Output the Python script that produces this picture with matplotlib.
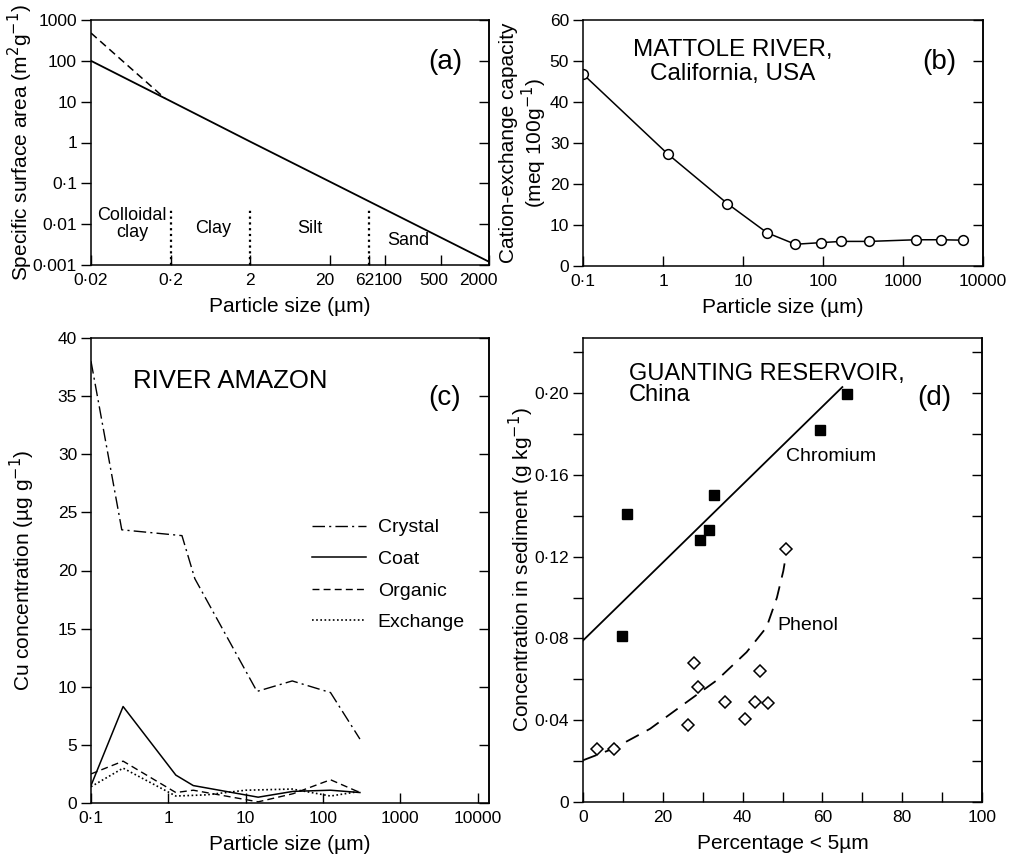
import numpy as np
import matplotlib.pyplot as plt
from matplotlib.ticker import NullLocator
from matplotlib.transforms import ScaledTranslation

plt.rcParams['font.family'] = ['Liberation Sans', 'DejaVu Sans']
plt.rcParams['axes.linewidth'] = 1.1

# --- (a) specific surface area vs particle size ---
ssa_size = [0.02, 0.2, 2, 20, 200, 2000]
ssa_area = [100, 10.3, 1.05, 0.11, 0.0115, 0.0012]
ssa_clay_size = [0.02, 0.06, 0.17]
ssa_clay_area = [480, 72, 12]
class_bounds = [0.2, 2, 62]
class_names = ['Colloidal\nclay', 'Clay', 'Silt', 'Sand']
a_xticks = [0.02, 0.2, 2, 20, 62, 100, 500, 2000]
a_xlabels = ['0\u00b702', '0\u00b72', '2', '20', '62', '100', '500', '2000']
a_yticks = [0.001, 0.01, 0.1, 1, 10, 100, 1000]
a_ylabels = ['0\u00b7001', '0\u00b701', '0\u00b71', '1', '10', '100', '1000']

# --- (b) Mattole River CEC ---
cec_size = [0.1, 1.15, 6.4, 20, 45, 94, 170, 380, 1450, 3000, 5600]
cec_value = [46.8, 27.3, 15.2, 8.1, 5.3, 5.7, 6.0, 6.0, 6.4, 6.4, 6.3]
log_xticks = [0.1, 1, 10, 100, 1000, 10000]
log_xlabels = ['0\u00b71', '1', '10', '100', '1000', '10000']

# --- (c) River Amazon Cu ---
crystal_size = [0.1, 0.25, 1.5, 2.2, 14, 40, 125, 300]
crystal_cu = [38, 23.5, 23, 19.3, 9.6, 10.5, 9.5, 5.5]
coat_size = [0.1, 0.26, 1.25, 2.1, 14.5, 41, 125, 300]
coat_cu = [1.5, 8.3, 2.4, 1.5, 0.5, 1.0, 1.1, 0.9]
organic_size = [0.1, 0.26, 1.25, 2.1, 14.5, 41, 125, 300]
organic_cu = [2.5, 3.6, 0.9, 1.1, 0.1, 0.8, 2.0, 0.9]
exchange_size = [0.1, 0.26, 1.25, 3.1, 10, 40, 125, 300]
exchange_cu = [1.4, 3.0, 0.6, 0.7, 1.1, 1.2, 0.6, 1.0]

# --- (d) Guanting Reservoir ---
cr_pct = [9.8, 11.0, 29.2, 31.7, 32.8, 59.4, 66.1]
cr_conc = [0.081, 0.141, 0.128, 0.133, 0.150, 0.182, 0.1995]
cr_fit_pct = [0, 65]
cr_fit_conc = [0.079, 0.203]
ph_pct = [3.5, 7.7, 26.3, 27.9, 28.8, 35.6, 40.6, 43.0, 44.4, 46.3, 50.9]
ph_conc = [0.026, 0.0257, 0.0375, 0.068, 0.0562, 0.049, 0.0407, 0.0489, 0.0643, 0.0486, 0.1238]
ph_fit_pct = [0, 7.7, 16.8, 26, 33.5, 41, 46, 48.6, 50.2, 50.9]
ph_fit_conc = [0.0204, 0.0262, 0.0358, 0.0489, 0.0595, 0.0733, 0.0855, 0.100, 0.113, 0.121]
d_yticks = [0, 0.02, 0.04, 0.06, 0.08, 0.10, 0.12, 0.14, 0.16, 0.18, 0.20, 0.22]
d_ylabels = ['0', '', '0\u00b704', '', '0\u00b708', '', '0\u00b712', '', '0\u00b716', '', '0\u00b720', '']
d_xticks = [0, 10, 20, 30, 40, 50, 60, 70, 80, 90, 100]
d_xlabels = ['0', '', '20', '', '40', '', '60', '', '80', '', '100']

TICK = 12.5
LABEL = 15


def set_ticks(ax, xticks, xlabels, yticks, ylabels):
    ax.set_xticks(xticks, xlabels)
    ax.set_yticks(yticks, ylabels)
    ax.xaxis.set_minor_locator(NullLocator())
    ax.yaxis.set_minor_locator(NullLocator())
    ax.tick_params(axis='y', direction='out', length=7, width=1, labelsize=TICK, pad=3)
    ax.tick_params(axis='x', direction='in', length=7, width=1, labelsize=TICK, pad=6)
    sec = ax.secondary_yaxis('right')
    sec.set_yticks(yticks)
    sec.yaxis.set_minor_locator(NullLocator())
    sec.tick_params(direction='in', length=7, width=1, labelright=False)


fig = plt.figure(figsize=(10.09, 8.58), dpi=100)
W, H = 1009, 858


def add_axes(l, t, r, b):
    return fig.add_axes([l / W, 1 - b / H, (r - l) / W, (b - t) / H])


# (a)
ax = add_axes(91, 20, 489, 265)
ax.set_xscale('log')
ax.set_yscale('log')
ax.plot(ssa_size, ssa_area, color='black', lw=1.3)
ax.plot(ssa_clay_size, ssa_clay_area, color='black', lw=1.1, ls=(0, (5, 3)))
ax.vlines(class_bounds, 0.001, 0.022, color='black', lw=1.6, ls=(0, (1, 1.6)))
ax.set_xlim(0.02, 2000)
ax.set_ylim(0.001, 1000)
set_ticks(ax, a_xticks, a_xlabels, a_yticks, a_ylabels)
# hand-lettered labels sit a little off their ticks in the original
shift = {'20': -5, '62': -4, '100': 3, '500': -7, '2000': -11}
for lab in ax.get_xticklabels():
    dx = shift.get(lab.get_text(), 0)
    if dx:
        lab.set_transform(lab.get_transform() + ScaledTranslation(dx / 100, 0, fig.dpi_scale_trans))
ax.set_xlabel('Particle size (\u00b5m)', fontsize=LABEL, labelpad=6)
ax.set_ylabel('Specific surface area (m$^2$g$^{-1}$)', fontsize=LABEL)
ax.yaxis.set_label_coords(-0.14, 0.5)
for name, x, y in zip(class_names, [0.103, 0.307, 0.550, 0.797], [0.167, 0.151, 0.151, 0.098]):
    ax.text(x, y, name, transform=ax.transAxes, ha='center', va='center', fontsize=13,
            linespacing=0.95)
ax.text(0.889, 0.829, '(a)', transform=ax.transAxes, ha='center', va='center', fontsize=20)

# (b)
ax = add_axes(583, 20, 983, 266)
ax.set_xscale('log')
ax.plot(cec_size, cec_value, color='black', lw=1.1, marker='o', ms=7,
        mfc='white', mec='black', mew=1.1)
ax.set_xlim(0.1, 10000)
ax.set_ylim(0, 60)
set_ticks(ax, log_xticks, log_xlabels, [0, 10, 20, 30, 40, 50, 60],
          ['0', '10', '20', '30', '40', '50', '60'])
ax.set_xlabel('Particle size (\u00b5m)', fontsize=LABEL, labelpad=6)
ax.set_ylabel('Cation-exchange capacity\n(meq 100g$^{-1}$)', fontsize=LABEL, linespacing=1.1)
ax.yaxis.set_label_coords(-0.084, 0.5)
ax.text(0.375, 0.83, 'MATTOLE RIVER,\nCalifornia, USA', transform=ax.transAxes,
        ha='center', va='center', fontsize=17.5, linespacing=1.1)
ax.text(0.89, 0.83, '(b)', transform=ax.transAxes, ha='center', va='center', fontsize=20)

# (c)
ax = add_axes(91, 338, 489, 803)
ax.set_xscale('log')
ax.plot(crystal_size, crystal_cu, color='black', lw=1.0, ls=(0, (9, 3, 1.5, 3)), label='Crystal')
ax.plot(coat_size, coat_cu, color='black', lw=1.1, label='Coat')
ax.plot(organic_size, organic_cu, color='black', lw=1.0, ls=(0, (5, 3)), label='Organic')
ax.plot(exchange_size, exchange_cu, color='black', lw=1.2, ls=(0, (1, 1.5)), label='Exchange')
ax.set_xlim(0.1, 14000)
ax.set_ylim(0, 40)
set_ticks(ax, log_xticks, log_xlabels, [0, 5, 10, 15, 20, 25, 30, 35, 40],
          ['0', '5', '10', '15', '20', '25', '30', '35', '40'])
ax.set_xlabel('Particle size (\u00b5m)', fontsize=LABEL, labelpad=6)
ax.set_ylabel('Cu concentration (\u00b5g g$^{-1}$)', fontsize=LABEL)
ax.yaxis.set_label_coords(-0.136, 0.5)
ax.legend(loc='upper left', bbox_to_anchor=(0.53, 0.632), frameon=False, fontsize=14,
          handlelength=2.8, handletextpad=0.6, labelspacing=0.72, borderpad=0)
ax.text(0.105, 0.907, 'RIVER AMAZON', transform=ax.transAxes, ha='left', va='center', fontsize=18.5)
ax.text(0.889, 0.87, '(c)', transform=ax.transAxes, ha='center', va='center', fontsize=20)

# (d)
ax = add_axes(583, 338, 982, 802)
ax.plot(cr_fit_pct, cr_fit_conc, color='black', lw=1.3)
ax.plot(cr_pct, cr_conc, ls='none', marker='s', ms=6.5, color='black')
ax.plot(ph_fit_pct, ph_fit_conc, color='black', lw=1.3, ls=(0, (8, 5)))
ax.plot(ph_pct, ph_conc, ls='none', marker='D', ms=6, mfc='white', mec='black', mew=1.1)
ax.set_xlim(0, 100)
ax.set_ylim(0, 0.227)
set_ticks(ax, d_xticks, d_xlabels, d_yticks, d_ylabels)
ax.set_xlabel('Percentage < 5\u00b5m', fontsize=LABEL, labelpad=6)
ax.set_ylabel('Concentration in sediment (g kg$^{-1}$)', fontsize=LABEL)
ax.yaxis.set_label_coords(-0.118, 0.5)
ax.text(0.115, 0.9, 'GUANTING RESERVOIR,\nChina', transform=ax.transAxes,
        ha='left', va='center', fontsize=17, linespacing=0.95)
ax.text(0.88, 0.87, '(d)', transform=ax.transAxes, ha='center', va='center', fontsize=20)
ax.text(0.508, 0.745, 'Chromium', transform=ax.transAxes, ha='left', va='center', fontsize=14)
ax.text(0.488, 0.38, 'Phenol', transform=ax.transAxes, ha='left', va='center', fontsize=14)

fig.savefig('out.png', dpi=100)
